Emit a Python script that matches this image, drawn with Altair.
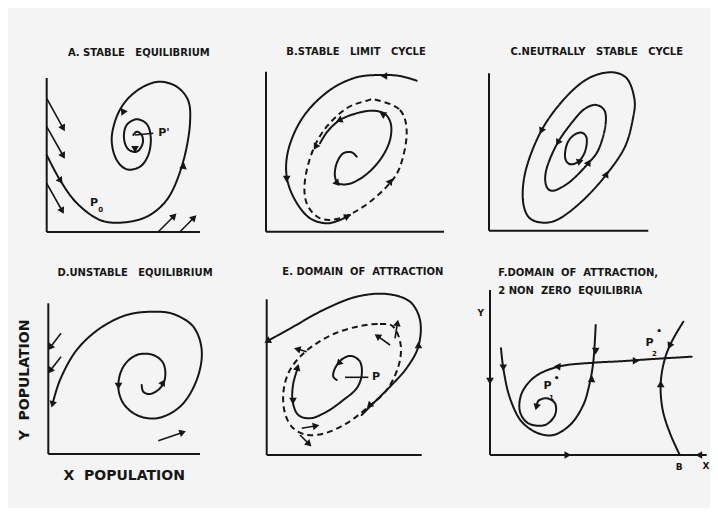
import altair as alt
import pandas as pd

INK = "#161616"
BG = "#f4f4f4"

# ---------------- Panel A : stable equilibrium ----------------
A_axes = [(46.7, 78, 46.7, 232), (46.7, 232, 200, 232)]
A_spiral = [(46.7, 155), (60, 180), (76.7, 203), (100, 220), (120, 222.7), (146.7, 216.7),
            (166.7, 200), (181.7, 166.7), (190, 123), (188, 100), (176.7, 86.7), (160, 81.7),
            (143.3, 86.7), (126.7, 100), (116.7, 116.7), (111.7, 140), (116.7, 160),
            (126.7, 169.3), (140, 166.7), (148.3, 155), (150.7, 136.7), (146.7, 124),
            (136.7, 119.3), (126.7, 125), (124, 138.3), (128.3, 149.3), (136.7, 151.7),
            (142.7, 143.3), (141.7, 135), (136.7, 131.7), (133.3, 135)]
A_shafts = [(46.7, 98.3, 62.7, 127.3), (46.7, 126.7, 62.7, 155), (46.7, 183.3, 61.7, 210),
            (158.3, 231.7, 173.3, 216.7), (180, 231.7, 193.3, 218.3), (135, 135, 153.3, 133.3)]
A_heads = [(62.7, 127.3, 151), (62.7, 155, 151), (61.7, 210, 151), (173.3, 216.7, 45),
           (193.3, 218.3, 45), (60, 180, 145), (183.3, 166.7, 8), (123.3, 111.7, 205),
           (135, 148.3, 60)]

# ---------------- Panel B : stable limit cycle ----------------
B_axes = [(266, 71.7, 266, 231.7), (266, 231.7, 444, 231.7)]
B_outer = [(416.7, 80.7), (400, 76), (380, 75), (356.7, 77.3), (330, 90), (303.3, 116.7),
           (288.3, 150), (286.7, 176.7), (295, 200), (310, 218.3), (326.7, 223.3), (340, 220),
           (350, 215)]
B_cycle = [(376.7, 100), (400, 110), (406.7, 133.3), (400, 166.7), (386.7, 186.7),
           (363.3, 206.7), (340, 218.3), (320, 218.3), (306.7, 203.3), (305, 180),
           (313, 150), (326.7, 126.7), (346.7, 108.3), (366.7, 100.7)]
B_inner = [(356.7, 156.7), (351.7, 152.3), (343.3, 153.3), (336.7, 163.3), (335, 176.7),
           (338.3, 183.3), (348.3, 184), (363.3, 176.7), (380, 160), (390, 140),
           (390.7, 123.3), (385, 114), (373.3, 110.7), (356.7, 113.3), (340, 120),
           (327.3, 131.7), (320, 143.3)]
B_heads = [(385, 76, 270), (286.7, 178, 180), (383.3, 114.5, 300), (340, 120, 245),
           (336.7, 182.7, 140), (316, 146, 210), (390, 182, 35), (346.7, 216.7, 65)]

# ---------------- Panel C : neutrally stable cycle ----------------
C_axes = [(489, 73.3, 489, 230.7), (489, 230.7, 648.3, 230.7)]
C_outer = [(610, 72.3), (626.7, 78.3), (634.3, 98.3), (633.3, 116.7), (625, 146.7),
           (606, 175), (583.3, 200), (560, 218.3), (543.3, 222.7), (528.3, 216.7),
           (522.7, 196.7), (526.7, 166.7), (541.7, 130), (563.3, 100), (586.7, 79.3)]
C_middle = [(596.7, 105), (605, 111.7), (605, 128.3), (598.3, 150), (588.3, 163.3),
            (570, 181.7), (553.3, 190.7), (546, 185), (546.7, 168.3), (558.3, 141.7),
            (576.7, 116.7), (586.7, 107.7)]
C_inner = [(581.7, 132.7), (586.7, 138.3), (585, 151.7), (578.3, 161.7), (569.3, 164),
           (565, 156.7), (567.3, 143.3), (574, 135)]
C_heads = [(541.7, 130, 205), (606, 175, 25), (558.3, 141.7, 210), (588.3, 163.3, 30),
           (579.3, 161.5, 70)]

# ---------------- Panel D : unstable equilibrium ----------------
D_axes = [(48.3, 303.3, 48.3, 454), (48.3, 454, 200, 454)]
D_spiral = [(141.7, 385), (143.3, 391.7), (150, 394), (160, 388.3), (165, 378.3),
            (163.3, 363.3), (153.3, 355), (136.7, 355), (123.3, 366.7), (118.3, 386.7),
            (123.3, 403.3), (136.7, 415), (156.7, 418.3), (180, 406.7), (196.7, 380),
            (201.7, 350), (193.3, 326.7), (173.3, 314), (153.3, 311.7), (126.7, 315),
            (100, 328.3), (76.7, 350), (60, 380), (52.7, 403.3)]
D_shafts = [(61, 333.3, 50.7, 346.7), (61, 356.7, 50.7, 370), (158.3, 440.7, 181.7, 432.7)]
D_heads = [(50.7, 346.7, 218), (50.7, 370, 218), (181.7, 432.7, 71), (52.7, 403.3, 195),
           (118.5, 385, 180), (162.7, 383.3, 30)]

# ---------------- Panel E : domain of attraction ----------------
E_axes = [(266.7, 299.3, 266.7, 455), (266.7, 455, 421.7, 455)]
E_outer = [(361.7, 415), (373.3, 403.3), (390, 386.7), (406.7, 368), (418.3, 346.7),
           (420, 320), (410, 301.7), (386.7, 294), (356.7, 296.7), (323.3, 310),
           (293.3, 326.7), (268.3, 340.7)]
E_separatrix = [(360, 326), (380, 324), (393.3, 326.7), (400.7, 345), (398.3, 366.7),
                (386.7, 390), (366.7, 408.3), (346.7, 423.3), (326.7, 432.7), (308.3, 435),
                (293.3, 428.3), (285, 413.3), (283.3, 393.3), (288.3, 373.3), (300, 356.7),
                (316.7, 343.3), (336.7, 332.7)]
E_inner = [(336.7, 380), (333.3, 376.7), (335, 368.3), (343.3, 358.3), (351.7, 356),
           (360, 361.7), (361.7, 375), (356.7, 388.3), (343.3, 400), (326.7, 411.7),
           (310, 418.3), (298.3, 415), (292.7, 401.7), (293.3, 383.3), (298.3, 366.7)]
E_shafts = [(395, 338.3, 397.3, 324), (390, 345, 378.3, 336.7), (306.7, 351.7, 298.3, 349.3),
            (301.7, 428.3, 315, 426), (300, 435, 308.3, 443.3), (345, 377.3, 368.3, 377.3)]
E_heads = [(397.3, 324, 10), (378.3, 336.7, 305), (298.3, 349.3, 285), (315, 426, 80),
           (308.3, 443.3, 135), (268.3, 340.7, 241), (418.5, 346, 0), (370, 405, 225),
           (339.3, 362.7, 225), (293, 400, 180), (297.3, 368.3, 15)]

# ---------------- Panel F : two non-zero equilibria ----------------
F_axes = [(490, 290, 490, 455), (490, 455, 706.7, 455)]
F_u = [(501, 348.3), (503.3, 368.3), (510, 398.3), (521.7, 421.7), (538.3, 433.3),
       (553.3, 435), (570, 425), (583.3, 405), (590, 381.7), (593.3, 361.7), (595.7, 325)]
F_unstable = [(691.7, 356.7), (653.3, 359), (620, 361.3), (593.3, 362.7), (558.3, 366.7),
              (535, 376.7), (521.7, 393.3), (520, 411.7), (528.3, 423.3), (545, 425),
              (555, 415), (555, 403.3), (546.7, 398.3), (538.3, 401), (536.7, 406.7)]
F_right = [(683.3, 321.7), (671.7, 341.7), (665, 358.3), (660.7, 383.3), (662.7, 410),
           (670, 433.3), (679.3, 454)]
F_heads = [(503.3, 366.7, 180), (591.7, 380, 5), (595.7, 350, 180), (558.3, 366.7, 275),
           (536.7, 406, 195), (635, 360.7, 90), (670, 345, 207), (660.7, 385, 0),
           (566.7, 455, 90), (700, 455, 270), (490, 380, 180)]

# ---------------- texts ----------------
NB = "\u00a0"
titles_center = [
    ("A." + NB + "STABLE" + NB * 3 + "EQUILIBRIUM", 138.8, 52.7),
    ("B.STABLE" + NB * 3 + "LIMIT" + NB * 3 + "CYCLE", 356, 52.3),
    ("C.NEUTRALLY" + NB * 3 + "STABLE" + NB * 3 + "CYCLE", 596.7, 52),
    ("D.UNSTABLE" + NB * 3 + "EQUILIBRIUM", 135, 273.3),
    ("E." + NB + "DOMAIN" + NB * 2 + "OF" + NB * 2 + "ATTRACTION", 362.8, 272.3),
]
titles_left = [
    ("F.DOMAIN" + NB * 2 + "OF" + NB * 2 + "ATTRACTION,", 498.3, 272.7),
    ("2" + NB + "NON" + NB * 2 + "ZERO" + NB * 2 + "EQUILIBRIA", 498.3, 290.7),
]
axis_titles = [("Y" + NB * 2 + "POPULATION", 25, 380, 270),
               ("X" + NB * 2 + "POPULATION", 124.2, 476, 0)]
point_labels = [("P'", 164, 133.3, 11), ("P", 94, 203.3, 11), ("0", 100.7, 209.5, 7),
                ("P", 376, 377.3, 11),
                ("P", 547.5, 386.2, 11), ("1", 551.5, 397.5, 7), ("•", 556.7, 378, 9),
                ("P", 649.5, 342.8, 11), ("2", 654.5, 354, 7), ("•", 659, 331, 9),
                ("Y", 480.7, 312.7, 9), ("X", 706, 466, 9), ("B", 679.3, 467.3, 9)]

# ---------------- build tables ----------------
open_curves = [("A_spiral", A_spiral, "solid"), ("B_outer", B_outer, "solid"),
               ("B_inner", B_inner, "solid"), ("D_spiral", D_spiral, "solid"),
               ("E_outer", E_outer, "solid"), ("E_inner", E_inner, "solid"),
               ("F_u", F_u, "solid"), ("F_unstable", F_unstable, "solid"),
               ("F_right", F_right, "solid")]
closed_curves = [("B_cycle", B_cycle, "dashed"), ("C_outer", C_outer, "solid"),
                 ("C_middle", C_middle, "solid"), ("C_inner", C_inner, "solid"),
                 ("E_separatrix", E_separatrix, "dashed")]


def curve_table(curves):
    rows = []
    for name, pts, style in curves:
        for i, (px, py) in enumerate(pts):
            rows.append({"curve": name, "i": i, "x": px, "y": py, "style": style})
    return pd.DataFrame(rows)


open_df = curve_table(open_curves)
closed_df = curve_table(closed_curves)

seg_rows = []
for segs, w in [(A_axes, 2), (B_axes, 2), (C_axes, 2), (D_axes, 2), (E_axes, 2), (F_axes, 2),
                (A_shafts, 1.6), (D_shafts, 1.6), (E_shafts, 1.6)]:
    for (x1, y1, x2, y2) in segs:
        seg_rows.append({"x": x1, "y": y1, "x2": x2, "y2": y2, "w": w})
seg_df = pd.DataFrame(seg_rows)

head_df = pd.DataFrame([{"x": hx, "y": hy, "a": ha}
                        for heads in [A_heads, B_heads, C_heads, D_heads, E_heads, F_heads]
                        for (hx, hy, ha) in heads])

center_text = ([{"t": t, "x": tx, "y": ty, "fs": 10, "ang": 0} for t, tx, ty in titles_center]
               + [{"t": t, "x": tx, "y": ty, "fs": 14, "ang": ang} for t, tx, ty, ang in axis_titles]
               + [{"t": t, "x": tx, "y": ty, "fs": fs, "ang": 0} for t, tx, ty, fs in point_labels])
center_df = pd.DataFrame(center_text)
left_df = pd.DataFrame([{"t": t, "x": tx, "y": ty, "fs": 10, "ang": 0} for t, tx, ty in titles_left])

# ---------------- chart ----------------
xs = alt.Scale(domain=[8, 710], nice=False, zero=False)
ys = alt.Scale(domain=[8, 508], nice=False, zero=False, reverse=True)
X = alt.X("x:Q", scale=xs, axis=None)
Y = alt.Y("y:Q", scale=ys, axis=None)
dash = alt.StrokeDash("style:N", scale=alt.Scale(domain=["solid", "dashed"],
                                                 range=[[1, 0], [6, 4]]), legend=None)

open_layer = alt.Chart(open_df).mark_line(
    interpolate="catmull-rom", strokeWidth=2, color=INK, strokeCap="round"
).encode(x=X, y=Y, detail="curve:N", order=alt.Order("i:Q"), strokeDash=dash)

closed_layer = alt.Chart(closed_df).mark_line(
    interpolate="cardinal-closed", strokeWidth=2, color=INK
).encode(x=X, y=Y, detail="curve:N", order=alt.Order("i:Q"), strokeDash=dash)

seg_layer = alt.Chart(seg_df).mark_rule(color=INK).encode(
    x=X, y=Y, x2="x2:Q", y2="y2:Q", strokeWidth=alt.StrokeWidth("w:Q", scale=None))

head_layer = alt.Chart(head_df).mark_point(
    shape="triangle", filled=True, opacity=1, color=INK, size=58, strokeWidth=0
).encode(x=X, y=Y, angle=alt.Angle("a:Q", scale=None))

text_c = alt.Chart(center_df).mark_text(
    font="DejaVu Sans", fontWeight="bold", color=INK, align="center", baseline="middle"
).encode(x=X, y=Y, text="t:N", size=alt.Size("fs:Q", scale=None),
         angle=alt.Angle("ang:Q", scale=None))

text_l = alt.Chart(left_df).mark_text(
    font="DejaVu Sans", fontWeight="bold", color=INK, align="left", baseline="middle"
).encode(x=X, y=Y, text="t:N", size=alt.Size("fs:Q", scale=None))

chart = alt.layer(open_layer, closed_layer, seg_layer, head_layer, text_c, text_l).properties(
    width=702, height=500, background=BG, padding=0,
    autosize=alt.AutoSizeParams(type="none")
).configure_view(stroke=None)

chart.save("out.html", embed_options={"renderer": "svg", "actions": False})
